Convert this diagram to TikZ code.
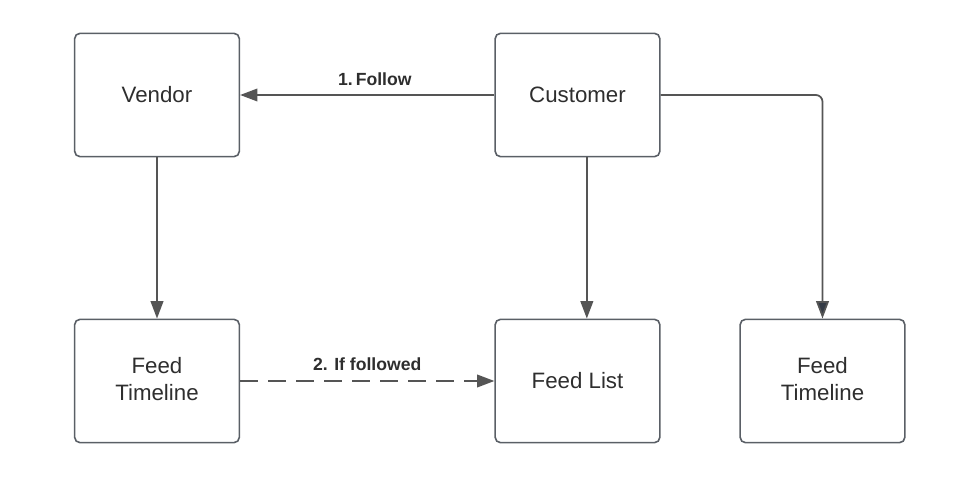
\documentclass[tikz,border=0pt]{standalone}
\usepackage{fontspec}
\setmainfont{Liberation Sans}
\usetikzlibrary{arrows.meta}
\begin{document}
\begin{tikzpicture}[x=0.75pt,y=-0.75pt,
  box/.style={draw=boxgray, line width=1.2pt, rounded corners=4pt, minimum width=123.5pt, minimum height=92.5pt, align=center, font=\fontsize{16.7}{20.5}\selectfont, text=textgray, inner sep=0pt},
  conn/.style={draw=linegray, line width=1.3pt, -{Triangle[length=13pt,width=9.5pt]}},
  lbl/.style={font=\bfseries\fontsize{13.2}{16}\selectfont, text=textgray}]
\definecolor{boxgray}{HTML}{5A5F66}
\definecolor{linegray}{HTML}{555555}
\definecolor{darkhead}{HTML}{343A45}
\definecolor{textgray}{HTML}{2E2E2E}
\useasboundingbox (0,0) rectangle (975,484);
\node[box] (vendor) at (157,95) {Vendor};
\node[box] (customer) at (577.5,95) {Customer};
\node[box] (ftl) at (157,381) {Feed\\Timeline\vphantom{g}};
\node[box] (flist) at (577.5,381) {Feed List};
\node[box] (ftr) at (822.5,381) {Feed\\Timeline\vphantom{g}};
\draw[conn] (customer.west) -- node[lbl, above=3pt, pos=0.47] {1.\,Follow} (vendor.east);
\draw[conn] (vendor.south) -- (ftl.north);
\draw[conn] ([xshift=7pt]customer.south) -- ([xshift=7pt]flist.north);
\draw[draw=linegray, line width=1.3pt, rounded corners=5pt, -{Triangle[length=13pt,width=9.5pt,fill=darkhead]}] (customer.east) -| (ftr.north);
\draw[conn, dash pattern=on 13.5pt off 7.5pt] (ftl.east) -- node[lbl, above=4pt, pos=0.5] {2. If followed} (flist.west);
\end{tikzpicture}
\end{document}
